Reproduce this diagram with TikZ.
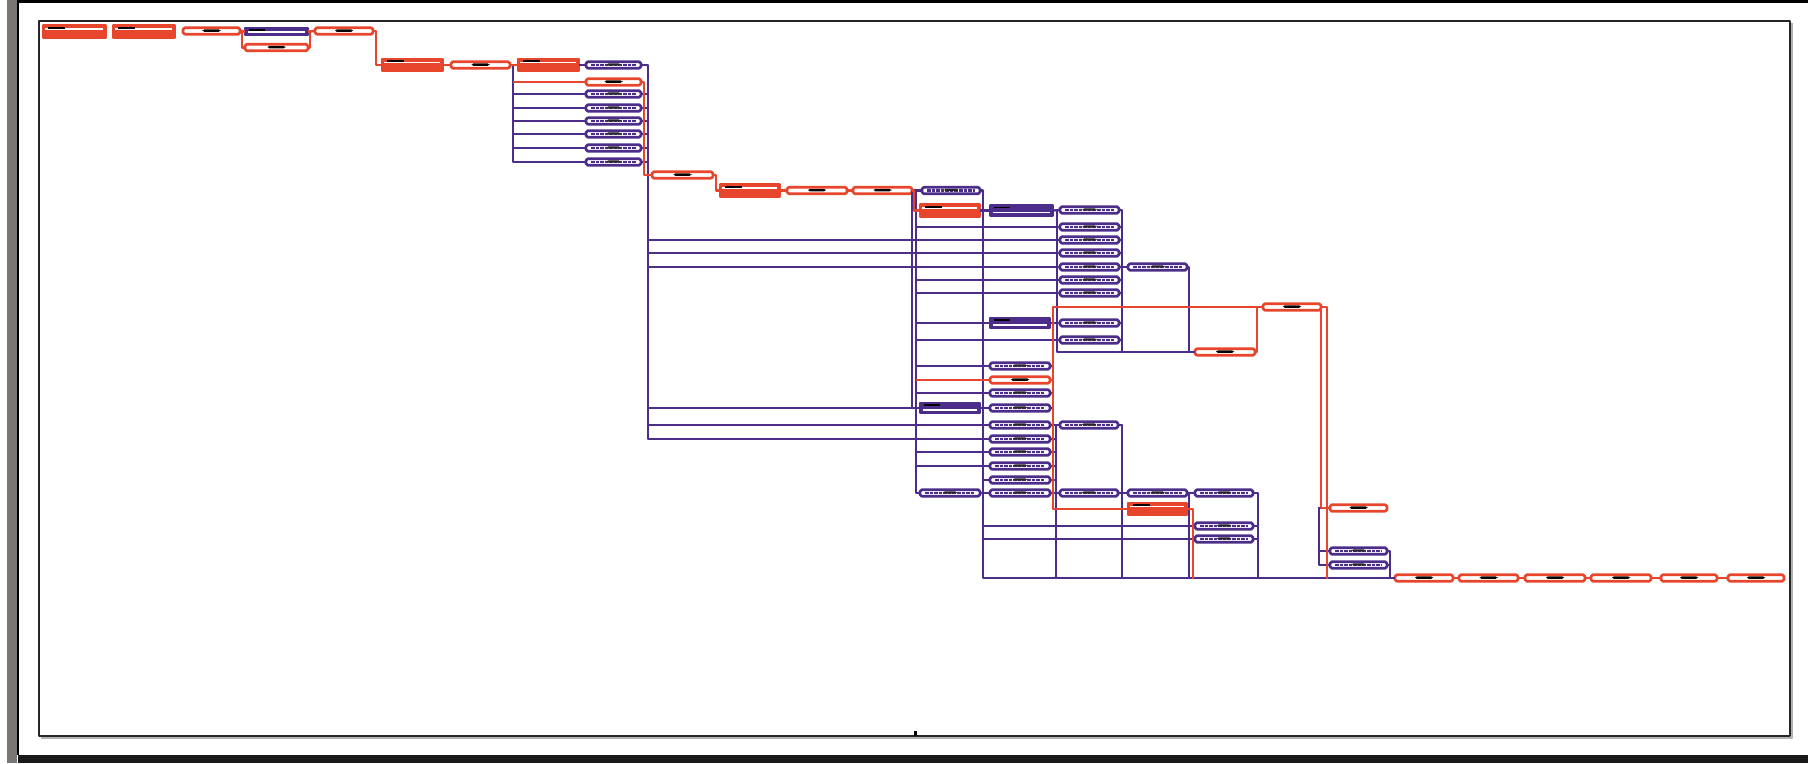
\documentclass[tikz,border=0pt]{standalone}
\usepackage{xcolor}
\usepackage{tikz}
\definecolor{critred}{RGB}{232,70,44}
\definecolor{taskblue}{RGB}{76,46,138}
\definecolor{pagegray}{RGB}{122,118,114}

\begin{document}
\begin{tikzpicture}[x=0.01cm,y=-0.01cm,line join=round,
  bl/.style={draw=taskblue,line width=0.65pt},
  rl/.style={draw=critred,line width=0.7pt},
  rout/.style={draw=critred,fill=white,line width=0.75pt,rounded corners=0.5pt,inner sep=0pt,outer sep=0pt,
    minimum height=0.065cm,minimum width=#1,
    path picture={\fill[black] ([xshift=-0.09cm,yshift=-0.008cm]path picture bounding box.center) rectangle ([xshift=0.09cm,yshift=0.016cm]path picture bounding box.center);}},
  rout/.default=0.6cm,
  bout/.style={draw=taskblue,fill=white,line width=0.75pt,rounded corners=0.5pt,inner sep=0pt,outer sep=0pt,
    minimum height=0.065cm,minimum width=#1,
    path picture={\draw[taskblue,line width=0.6pt,dash pattern=on 1pt off 0.3pt] ([xshift=0.05cm]path picture bounding box.west) -- ([xshift=-0.05cm]path picture bounding box.east);
      \fill[black!85] ([xshift=-0.07cm,yshift=-0.006cm]path picture bounding box.center) rectangle ([xshift=0.07cm,yshift=0.016cm]path picture bounding box.center);}},
  bout/.default=0.6cm,
  rsum/.style={draw=critred,fill=critred,line width=0.75pt,inner sep=0pt,outer sep=0pt,
    minimum height=0.12cm,minimum width=#1,
    path picture={\draw[white,line width=0.5pt] ([xshift=0.02cm,yshift=-0.035cm]path picture bounding box.north west) -- ([xshift=-0.03cm,yshift=-0.035cm]path picture bounding box.north east);
      \fill[black] ([xshift=0.05cm,yshift=-0.008cm]path picture bounding box.north west) rectangle ([xshift=0.22cm,yshift=-0.03cm]path picture bounding box.north west);}},
  rsum/.default=0.6cm,
  bsum/.style={draw=taskblue,fill=taskblue,line width=0.75pt,inner sep=0pt,outer sep=0pt,
    minimum height=0.1cm,minimum width=#1,
    path picture={\draw[white,line width=0.45pt] ([xshift=0.03cm,yshift=0.03cm]path picture bounding box.south west) -- ([xshift=-0.03cm,yshift=0.03cm]path picture bounding box.south east);
      \fill[black] ([xshift=0.04cm,yshift=-0.006cm]path picture bounding box.north west) rectangle ([xshift=0.2cm,yshift=-0.026cm]path picture bounding box.north west);}},
  bsum/.default=0.6cm]
  \useasboundingbox (0,0) rectangle (1819,763);
  \fill[white] (0,0) rectangle (1819,763);
  \fill[pagegray] (7,0) rectangle (17,763);
  \fill[black] (17,0) rectangle (19,755);
  \fill[black] (17,0) rectangle (1808,3);
  \fill[black!90] (18,755) rectangle (1808,763);
  \draw[gray!60,line width=0.6pt] (41,738) -- (1792,738) -- (1792,23);
  \draw[black!85,line width=0.45pt] (39,21) rectangle (1790,736);
  \fill[black] (914,731) rectangle (917,736);

  \coordinate (JH) at (513,65);
  \coordinate (MV) at (648,0);
  \coordinate (VX) at (916,0);
  \coordinate (NX) at (983,0);
  \coordinate (RX) at (1053,0);
  \coordinate (BX) at (1056,0);
  \coordinate (FX) at (1122,0);
  \coordinate (RB1) at (1193,579);
  \coordinate (RB2) at (1327,579);

  \node[rsum=0.63cm] (A1) at (74.5,31.5) {};
  \node[rsum=0.62cm] (A2) at (144,31.5) {};
  \node[rout=0.57cm] (A3) at (211.5,31) {};
  \node[bsum=0.63cm,minimum height=0.07cm] (A4) at (276.5,31.5) {};
  \node[rout=0.63cm] (A5) at (276.5,47.5) {};
  \node[rout=0.58cm] (A6) at (344,31) {};
  \node[rsum=0.61cm] (A7) at (412.5,65) {};
  \node[rout=0.59cm] (A8) at (480.5,65) {};
  \node[rsum=0.61cm] (A9) at (548.5,65) {};

  \node[bout=0.55cm] (B1) at (613.5,65) {};
  \node[rout=0.55cm] (B2) at (613.5,82) {};
  \node[bout=0.55cm] (B3) at (613.5,94) {};
  \node[bout=0.55cm] (B4) at (613.5,108) {};
  \node[bout=0.55cm] (B5) at (613.5,121) {};
  \node[bout=0.55cm] (B6) at (613.5,134) {};
  \node[bout=0.55cm] (B7) at (613.5,148) {};
  \node[bout=0.55cm] (B8) at (613.5,162) {};

  \node[rout=0.61cm] (C1) at (682.5,175) {};
  \node[rsum=0.6cm] (C2) at (750,190.5) {};
  \node[rout=0.6cm] (C3) at (817,190.5) {};
  \node[rout=0.59cm] (C4) at (882.5,190.5) {};
  \node[bout=0.58cm] (C5) at (951,190.5) {};
  \node[rsum=0.6cm] (C6) at (950,210.5) {};
  \node[bsum=0.63cm] (C7) at (1021.5,210.5) {};

  \node[bsum] (D0) at (1020,323) {};
  \node[bout] (D1) at (1020,366) {};
  \node[rout] (D2) at (1020,380) {};
  \node[bout] (D3) at (1020,393) {};
  \node[bout] (D4) at (1020,408) {};
  \node[bout] (D5) at (1020,425) {};
  \node[bout] (D6) at (1020,439) {};
  \node[bout] (D7) at (1020,452) {};
  \node[bout] (D8) at (1020,466) {};
  \node[bout] (D9) at (1020,480) {};
  \node[bout] (D10) at (1020,493) {};

  \node[bsum] (E1) at (950,408) {};
  \node[bout] (E2) at (950,493) {};

  \node[bout=0.59cm] (F1) at (1089.5,210) {};
  \node[bout=0.59cm] (F2) at (1089.5,227) {};
  \node[bout=0.59cm] (F3) at (1089.5,240) {};
  \node[bout=0.59cm] (F4) at (1089.5,253) {};
  \node[bout=0.59cm] (F5) at (1089.5,267) {};
  \node[bout=0.59cm] (F6) at (1089.5,280) {};
  \node[bout=0.59cm] (F7) at (1089.5,293) {};
  \node[bout=0.59cm] (F8) at (1089.5,323) {};
  \node[bout=0.59cm] (F9) at (1089.5,340) {};
  \node[bout=0.58cm] (F10) at (1089,425) {};
  \node[bout=0.58cm] (F11) at (1089,493) {};

  \node[bout=0.59cm] (G1) at (1157.5,267) {};
  \node[bout=0.59cm] (G2) at (1157.5,493) {};
  \node[rsum=0.59cm] (G3) at (1157.5,509) {};

  \node[rout=0.6cm] (H1) at (1225,352) {};
  \node[rout=0.58cm] (H2) at (1292,307) {};
  \node[bout=0.58cm] (H3) at (1224,493) {};
  \node[bout=0.58cm] (H4) at (1224,526) {};
  \node[bout=0.58cm] (H5) at (1224,539) {};

  \node[rout=0.57cm] (K1) at (1358.5,508) {};
  \node[bout=0.57cm] (K2) at (1358.5,551) {};
  \node[bout=0.57cm] (K3) at (1358.5,565) {};

  \node[rout=0.58cm] (L1) at (1424,578) {};
  \node[rout=0.59cm] (L2) at (1488.5,578) {};
  \node[rout=0.6cm] (L3) at (1555,578) {};
  \node[rout=0.6cm] (L4) at (1621,578) {};
  \node[rout=0.56cm] (L5) at (1689,578) {};
  \node[rout=0.56cm] (L6) at (1756,578) {};

  \draw[bl] (JH) |- (B8.west);
  \draw[bl] (JH |- B3.west) -- (B3.west);
  \draw[bl] (JH |- B4.west) -- (B4.west);
  \draw[bl] (JH |- B5.west) -- (B5.west);
  \draw[bl] (JH |- B6.west) -- (B6.west);
  \draw[bl] (JH |- B7.west) -- (B7.west);
  \draw[bl] (A9.east) -- (B1.west);
  \draw[bl] (B1.east) -| (MV |- D6.west) -- (D6.west);
  \draw[bl] (B3.east) -- (MV |- B3.east);
  \draw[bl] (B4.east) -- (MV |- B4.east);
  \draw[bl] (B5.east) -- (MV |- B5.east);
  \draw[bl] (B6.east) -- (MV |- B6.east);
  \draw[bl] (B7.east) -- (MV |- B7.east);
  \draw[bl] (B8.east) -- (MV |- B8.east);
  \draw[bl] (MV |- F3.west) -- (F3.west);
  \draw[bl] (MV |- F4.west) -- (F4.west);
  \draw[bl] (MV |- F5.west) -- (F5.west);
  \draw[bl] (MV |- E1.west) -- (E1.west);
  \draw[bl] (MV |- D5.west) -- (D5.west);

  \draw[bl] (C4.east) -- (C5.west);
  \draw[bl] (C4.east) |- (E1.west);
  \draw[bl] (C4.east) -- ++(4,0) |- (E2.west);
  \draw[bl] (C6.east) -- (C7.west);
  \draw[bl] (C7.east) -- (F1.west);
  \draw[bl] (C5.east) -- ++(3,0) |- (L1.west);
  \draw[bl] (VX |- F2.west) -- (F2.west);
  \draw[bl] (VX |- F6.west) -- (F6.west);
  \draw[bl] (VX |- F7.west) -- (F7.west);
  \draw[bl] (VX |- D0.west) -- (D0.west);
  \draw[bl] (VX |- F9.west) -- (F9.west);
  \draw[bl] (VX |- D1.west) -- (D1.west);
  \draw[bl] (VX |- D3.west) -- (D3.west);
  \draw[bl] (VX |- D7.west) -- (D7.west);
  \draw[bl] (VX |- D8.west) -- (D8.west);
  \draw[bl] (NX |- D9.west) -- (D9.west);
  \draw[bl] (D0.east) -- (F8.west);
  \draw[bl] (E1.east) -- (D4.west);
  \draw[bl] (E2.east) -- (D10.west);
  \draw[bl] (E2.east) -- ++(3,0) |- (H4.west);
  \draw[bl] (E2.east) -- ++(3,0) |- (H5.west);

  \draw[bl] (D1.east) -- (RX |- D1.east);
  \draw[bl] (D3.east) -- (RX |- D3.east);
  \draw[bl] (D4.east) -- (RX |- D4.east);
  \draw[bl] (D5.east) -- (F10.west);
  \draw[bl] (D5.east) -- ++(6,0) |- (L1.west);
  \draw[bl] (D6.east) -- (BX |- D6.east);
  \draw[bl] (D7.east) -- (BX |- D7.east);
  \draw[bl] (D8.east) -- (BX |- D8.east);
  \draw[bl] (D9.east) -- (BX |- D9.east);
  \draw[bl] (D10.east) -- (F11.west);

  \draw[bl] (F1.west) -- ++(-3,0) |- (H1.west);
  \draw[bl] (F1.east) -| (FX |- H1.west);
  \draw[bl] (F2.east) -- (FX |- F2.east);
  \draw[bl] (F3.east) -- (FX |- F3.east);
  \draw[bl] (F4.east) -- (FX |- F4.east);
  \draw[bl] (F6.east) -- (FX |- F6.east);
  \draw[bl] (F7.east) -- (FX |- F7.east);
  \draw[bl] (F8.east) -- (FX |- F8.east);
  \draw[bl] (F9.east) -- (FX |- F9.east);
  \draw[bl] (F5.east) -- (G1.west);
  \draw[bl] (G1.east) -- ++(2,0) |- (H1.west);
  \draw[bl] (F10.east) -| (FX |- G3.west) -- (G3.west);
  \draw[bl] (F10.east) -- ++(4,0) |- (L1.west);
  \draw[bl] (F11.east) -- (G2.west);
  \draw[bl] (G2.east) -- (H3.west);
  \draw[bl] (G2.east) -- ++(2,0) |- (L1.west);
  \draw[bl] (H3.east) -- ++(5,0) |- (L1.west);
  \draw[bl] (H4.east) -- ++(5,0);
  \draw[bl] (H5.east) -- ++(5,0);
  \draw[bl] (K1.west) -- ++(-11,0) |- (K2.west);
  \draw[bl] (K1.west) -- ++(-11,0) |- (K3.west);
  \draw[bl] (K2.east) -- ++(3,0) |- (L1.west);
  \draw[bl] (K3.east) -- ++(3,0) |- (L1.west);

  \draw[rl] (A3.east) -- (A4.west);
  \draw[rl] (A3.east) -- ++(2,0) |- (A5.west);
  \draw[rl] (A5.east) -- ++(2,0) |- (A4.east);
  \draw[rl] (A4.east) -- (A6.west);
  \draw[rl] (A6.east) -- ++(3,0) |- (A7.west);
  \draw[rl] (A7.east) -- (A8.west);
  \draw[rl] (A8.east) -- (A9.west);
  \draw[rl] (JH |- B2.west) -- (B2.west);
  \draw[rl] (B2.east) -- ++(3,0) |- (C1.west);
  \draw[rl] (C1.east) -- ++(3,0) |- (C2.west);
  \draw[rl] (C2.east) -- (C3.west);
  \draw[rl] (C3.east) -- (C4.west);
  \draw[rl] (C4.east) -- ++(2,0) |- (C6.west);
  \draw[rl] (VX |- D2.west) -- (D2.west);
  \draw[rl] (D2.east) -| (RX |- H2.west) -- (H2.west);
  \draw[rl] (D2.east) -| (RX |- G3.west) -- (G3.west);
  \draw[rl] (G3.east) -| (RB1);
  \draw[rl] (H1.east) -- ++(2,0) |- (H2.west);
  \draw[rl] (H2.south east) |- (K1.west);
  \draw[rl] (H2.east) -| (RB2);
  \draw[rl] (L1.east) -- (L2.west);
  \draw[rl] (L2.east) -- (L3.west);
  \draw[rl] (L3.east) -- (L4.west);
  \draw[rl] (L4.east) -- (L5.west);
  \draw[rl] (L5.east) -- (L6.west);
\end{tikzpicture}
\end{document}
